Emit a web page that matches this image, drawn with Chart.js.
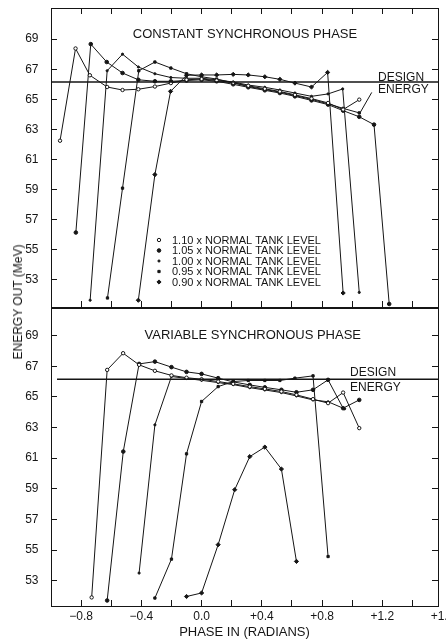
<!DOCTYPE html>
<html>
<head>
<meta charset="utf-8">
<script src="https://cdn.jsdelivr.net/npm/chart.js@4.4.1/dist/chart.umd.min.js"></script>
<style>
html, body { margin: 0; padding: 0; background: #fff; overflow: hidden; width: 446px; height: 640px; }
#wrap { position: relative; width: 446px; height: 640px; }
#topChart { position: absolute; left: 0; top: 0; }
#botChart { position: absolute; left: 0; top: 300px; }
#ytitle { position: absolute; left: 18px; top: 302px; transform: translate(-50%, -50%) rotate(-90deg);
  font: 12px "Liberation Sans", Arial, sans-serif; white-space: nowrap; color: #151515; }
</style>
</head>
<body>
<div id="wrap">
  <canvas id="topChart" width="480" height="312"></canvas>
  <canvas id="botChart" width="480" height="340"></canvas>
  <div id="ytitle">ENERGY OUT (MeV)</div>
</div>
<script>
// phase (radians), energy out (MeV)
const tankLevels = ['1.10', '1.05', '1.00', '0.95', '0.90'];
const designEnergy = 66.15;

const constant110 = [[-0.94,62.25],[-0.837,68.38],[-0.742,66.6],[-0.627,65.82],[-0.525,65.62],[-0.42,65.67],[-0.31,65.85],[-0.204,66.08],[-0.1,66.3],[0.0,66.35],[0.1,66.25],[0.21,66.1],[0.31,65.9],[0.42,65.7],[0.52,65.52],[0.62,65.3],[0.73,65.05],[0.84,64.76],[0.94,64.32],[1.047,64.98]];
const constant105 = [[-0.835,56.15],[-0.736,68.67],[-0.63,67.48],[-0.525,66.75],[-0.42,66.3],[-0.31,66.2],[-0.204,66.2],[-0.1,66.25],[0.0,66.3],[0.1,66.2],[0.21,66.0],[0.31,65.8],[0.42,65.6],[0.52,65.42],[0.62,65.2],[0.73,64.93],[0.84,64.65],[0.94,64.25],[1.047,63.84],[1.145,63.32],[1.246,51.4]];
const constant100 = [[-0.74,51.65],[-0.627,66.9],[-0.525,68.0],[-0.42,67.15],[-0.31,66.7],[-0.204,66.45],[-0.1,66.4],[0.0,66.4],[0.1,66.3],[0.21,66.15],[0.31,65.95],[0.42,65.8],[0.52,65.62],[0.62,65.42],[0.73,65.2],[0.84,65.36],[0.937,65.69],[1.047,52.17]];
const constant095 = [[-0.625,51.8],[-0.525,59.1],[-0.417,66.9],[-0.31,67.48],[-0.204,67.08],[-0.1,66.7],[0.0,66.5],[0.1,66.35],[0.21,66.1],[0.31,65.85],[0.42,65.65],[0.52,65.48],[0.62,65.25],[0.73,65.0],[0.84,64.7],[0.94,64.4],[1.047,64.1]];
const constant090 = [[-0.42,51.65],[-0.31,60.0],[-0.206,65.53],[-0.1,66.6],[0.0,66.62],[0.1,66.62],[0.21,66.66],[0.31,66.62],[0.42,66.5],[0.52,66.33],[0.62,66.08],[0.73,65.82],[0.837,66.79],[0.94,52.13]];

const variable110 = [[-0.73,51.91],[-0.627,66.76],[-0.521,67.85],[-0.415,67.09],[-0.31,66.7],[-0.2,66.4],[-0.1,66.25],[0.0,66.15],[0.11,66.0],[0.21,65.85],[0.32,65.67],[0.42,65.52],[0.53,65.35],[0.63,65.13],[0.74,64.85],[0.84,64.59],[0.94,65.28],[1.047,62.96]];
const variable105 = [[-0.627,51.71],[-0.52,61.43],[-0.415,67.15],[-0.31,67.3],[-0.2,66.94],[-0.1,66.63],[0.0,66.5],[0.11,66.22],[0.21,65.98],[0.32,65.78],[0.42,65.62],[0.53,65.46],[0.63,65.3],[0.74,65.46],[0.84,66.11],[0.94,64.26],[1.047,64.8]];
const variable100 = [[-0.415,53.5],[-0.31,63.17],[-0.2,66.33],[-0.1,66.2],[0.0,66.08],[0.11,65.93],[0.21,65.8],[0.32,65.6],[0.42,65.45],[0.53,65.28],[0.63,65.06],[0.74,64.8],[0.84,64.68],[0.95,64.22]];
const variable095 = [[-0.31,51.87],[-0.2,54.41],[-0.1,61.28],[0.0,64.7],[0.11,65.67],[0.21,66.0],[0.31,66.07],[0.42,66.07],[0.52,66.07],[0.62,66.22],[0.74,66.37],[0.84,54.58]];
const variable090 = [[-0.1,51.97],[0.0,52.2],[0.11,55.35],[0.22,58.94],[0.32,61.1],[0.42,61.72],[0.53,60.29],[0.63,54.26]];

const xTickVals = [-0.8,-0.6,-0.4,-0.2,0.0,0.2,0.4,0.6,0.8,1.0,1.2,1.4,1.6];
const xTickText = ['\u22120.8','','\u22120.4','','0.0','','+0.4','','+0.8','','+1.2','','+1.6'];
const yTickVals = [53,55,57,59,61,63,65,67,69];

const xMin = -1.0, xMax = 1.57;
const ink = '#151515';
const fam = '"Liberation Sans", Arial, sans-serif';

const markers = [
  { pointStyle: 'circle', radius: 1.7, fill: '#fff' },
  { pointStyle: 'circle', radius: 1.8, fill: ink },
  { pointStyle: 'circle', radius: 1.1, fill: ink },
  { pointStyle: 'rect', radius: 1.6, fill: ink },
  { pointStyle: 'rectRot', radius: 2.1, fill: ink }
];

function curveSet(series) {
  return series.map((pts, i) => ({
    label: tankLevels[i] + ' x NORMAL TANK LEVEL',
    data: pts.map(p => ({ x: p[0], y: p[1] })),
    borderColor: ink, borderWidth: 1, tension: 0,
    pointStyle: markers[i].pointStyle, pointRadius: markers[i].radius,
    pointBackgroundColor: markers[i].fill, pointBorderColor: ink, pointBorderWidth: 1,
    marker: markers[i]
  }));
}

function designLine(from) {
  return {
    label: 'design', data: [{ x: from, y: designEnergy }, { x: xMax, y: designEnergy }],
    borderColor: ink, borderWidth: 1.4, pointRadius: 0, tension: 0
  };
}

// axes sit exactly on the frame; zero out label overflow padding
function noPad(s) { s.paddingTop = 0; s.paddingBottom = 0; s.paddingLeft = 0; s.paddingRight = 0; }

function xAxis(position, labels, ticks, height) {
  return {
    type: 'linear', axis: 'x', position, min: xMin, max: xMax,
    afterBuildTicks: s => { s.ticks = xTickVals.map(v => ({ value: v })); },
    afterFit: s => { s.height = height; noPad(s); },
    grid: { drawOnChartArea: false, drawTicks: ticks, tickLength: -6, lineWidth: 1,
      color: c => (c.tick && c.tick.value > xMax) ? 'rgba(0,0,0,0)' : ink },
    border: { display: true, color: ink, width: 1 },
    ticks: { display: labels, autoSkip: false, maxRotation: 0, padding: 9, color: ink,
      font: { family: fam, size: 12 }, callback: (v, i) => xTickText[i] },
    title: { display: labels, text: 'PHASE IN (RADIANS)', color: ink, padding: 0,
      font: { family: fam, size: 13 } }
  };
}

function yAxis(position, min, max, labels, width) {
  return {
    type: 'linear', axis: 'y', position, min, max,
    afterBuildTicks: s => { s.ticks = yTickVals.map(v => ({ value: v })); },
    afterFit: s => { s.width = width; noPad(s); },
    grid: { drawOnChartArea: false, tickLength: -6, lineWidth: 1, color: ink },
    border: { display: true, color: ink, width: 1 },
    ticks: { display: labels, padding: 18.5, color: ink, font: { family: fam, size: 12 },
      callback: v => String(v) }
  };
}

// panel titles, design energy label, legend
const notes = {
  id: 'notes',
  afterDraw(chart, args, opts) {
    const { ctx, chartArea } = chart;
    const sx = chart.scales.x, sy = chart.scales.y;
    ctx.save();
    ctx.fillStyle = ink; ctx.strokeStyle = ink; ctx.textBaseline = 'middle';
    (opts.texts || []).forEach(t => {
      ctx.font = t.size + 'px ' + fam;
      ctx.textAlign = t.align || 'left';
      ctx.fillText(t.text, sx.getPixelForValue(t.at[0]), sy.getPixelForValue(t.at[1]));
    });
    (opts.pointers || []).forEach(p => {
      ctx.lineWidth = 1;
      ctx.beginPath();
      ctx.moveTo(sx.getPixelForValue(p[0][0]), sy.getPixelForValue(p[0][1]));
      ctx.lineTo(sx.getPixelForValue(p[1][0]), sy.getPixelForValue(p[1][1]));
      ctx.stroke();
    });
    if (opts.legend) {
      const x0 = chartArea.left + 108, y0 = chartArea.top + 232;
      ctx.font = '11px ' + fam; ctx.textAlign = 'left';
      chart.data.datasets.filter(d => d.marker).forEach((d, i) => {
        const y = y0 + i * 10.5;
        ctx.fillStyle = d.marker.fill; ctx.strokeStyle = ink; ctx.lineWidth = 1;
        Chart.helpers.drawPoint(ctx, { pointStyle: d.marker.pointStyle, rotation: 0,
          radius: d.marker.radius, borderWidth: 1 }, x0, y);
        ctx.fillStyle = ink;
        ctx.fillText(d.label, x0 + 13, y + 0.5);
      });
    }
    ctx.restore();
  }
};

function panel(id, series, yMin, yMax, isBottom, noteOpts) {
  return new Chart(document.getElementById(id), {
    type: 'line',
    data: { datasets: [designLine(isBottom ? -0.96 : xMin)].concat(curveSet(series)) },
    options: {
      responsive: false, animation: false, events: [],
      layout: { padding: { left: 0, right: 42, top: 8, bottom: isBottom ? 0 : 4 } },
      scales: {
        x: xAxis('bottom', isBottom, true, isBottom ? 34 : 0),
        xt: xAxis('top', false, !isBottom, 0),
        y: yAxis('left', yMin, yMax, true, 51),
        yr: yAxis('right', yMin, yMax, false, 0)
      },
      plugins: { legend: { display: false }, tooltip: { enabled: false }, notes: noteOpts }
    },
    plugins: [notes]
  });
}

panel('topChart', [constant110, constant105, constant100, constant095, constant090], 51.2, 71.07, false, {
  legend: true,
  texts: [
    { text: 'CONSTANT SYNCHRONOUS PHASE', at: [0.288, 69.3], size: 13, align: 'center' },
    { text: 'DESIGN', at: [1.172, 66.45], size: 12 },
    { text: 'ENERGY', at: [1.172, 65.66], size: 12 }
  ],
  pointers: [[[1.13, 65.46], [1.052, 64.1]]]
});

panel('botChart', [variable110, variable105, variable100, variable095, variable090], 51.35, 70.8, true, {
  texts: [
    { text: 'VARIABLE SYNCHRONOUS PHASE', at: [0.34, 69.0], size: 13, align: 'center' },
    { text: 'DESIGN', at: [0.986, 66.6], size: 12 },
    { text: 'ENERGY', at: [0.986, 65.6], size: 12 }
  ]
});
</script>
</body>
</html>
